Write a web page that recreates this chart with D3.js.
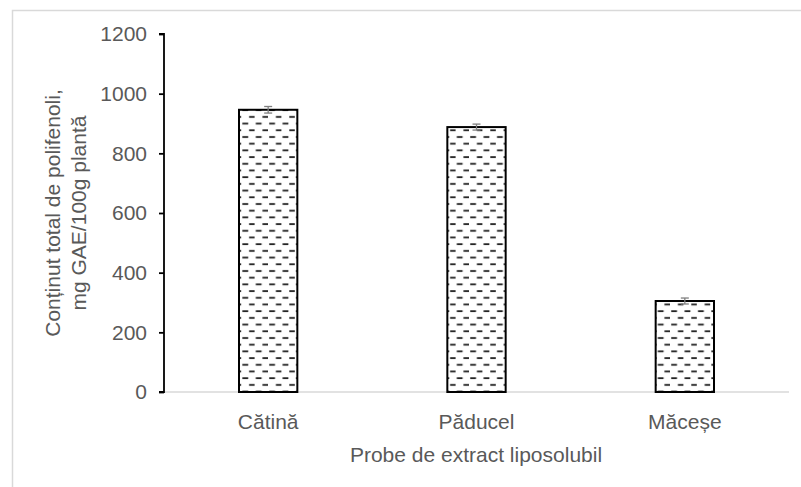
<!DOCTYPE html>
<html><head><meta charset="utf-8">
<script src="https://cdn.jsdelivr.net/npm/d3@7"></script>
<style>body{margin:0;background:#fff}svg{display:block}</style>
</head><body>
<svg id="c" width="801" height="487"></svg>
<script>
const categories = ["Cătină", "Păducel", "Măceșe"];
const values = [946, 888, 305];
const errors = [11, 10, 10];
const yTicks = [0, 200, 400, 600, 800, 1000, 1200];
const yTitle = ["Conținut total de polifenoli,", "mg GAE/100g plantă"];
const xTitle = "Probe de extract liposolubil";

const svg = d3.select("#c");
const font = "'Liberation Sans', Arial, sans-serif";
const textColor = "#595959";
const fs = "21px";

// outer frame
svg.append("rect").attr("x", 12.5).attr("y", 10.5).attr("width", 820).attr("height", 500)
  .attr("fill", "none").attr("stroke", "#d9d9d9").attr("stroke-width", 1.5);

// pattern
const defs = svg.append("defs");
const P = 13.4;
const pat = defs.append("pattern").attr("id", "dash").attr("patternUnits", "userSpaceOnUse")
  .attr("width", P).attr("height", P).attr("x", 0).attr("y", 0);
pat.append("rect").attr("width", P).attr("height", P).attr("fill", "#fff");
pat.append("line").attr("x1", 1.2).attr("x2", 7).attr("y1", 3).attr("y2", 3)
  .attr("stroke", "#222").attr("stroke-width", 1.8);
pat.append("line").attr("x1", 7.9).attr("x2", 13.4).attr("y1", 9.7).attr("y2", 9.7)
  .attr("stroke", "#222").attr("stroke-width", 1.8);

const x = d3.scaleBand().domain(categories).range([164, 789]).paddingInner(0.72).paddingOuter(0.36);
const y = d3.scaleLinear().domain([0, 1200]).range([392, 34]);

// x axis line
svg.append("line").attr("x1", 164).attr("x2", 789).attr("y1", y(0)).attr("y2", y(0))
  .attr("stroke", "#d9d9d9").attr("stroke-width", 1.5);

// bars
svg.append("g").selectAll("rect").data(categories).join("rect")
  .attr("x", d => x(d)).attr("y", (d, i) => y(values[i]))
  .attr("width", x.bandwidth())
  .attr("height", (d, i) => y(0) - y(values[i]))
  .attr("fill", "url(#dash)")
  .attr("stroke", "#000").attr("stroke-width", 2);

// error bars
categories.forEach((c, i) => {
  const cx = x(c) + x.bandwidth() / 2;
  const top = y(values[i] + errors[i]), bot = y(values[i] - errors[i]);
  const g = svg.append("g").attr("stroke", "#7f7f7f").attr("stroke-width", 1.3);
  g.append("line").attr("x1", cx).attr("x2", cx).attr("y1", top).attr("y2", bot);
  g.append("line").attr("x1", cx - 4).attr("x2", cx + 4).attr("y1", top).attr("y2", top);
  g.append("line").attr("x1", cx - 4).attr("x2", cx + 4).attr("y1", bot).attr("y2", bot);
});

// y axis
const yAxis = svg.append("g").attr("transform", "translate(164,0)")
  .call(d3.axisLeft(y).tickValues(yTicks).tickSize(5).tickPadding(12).tickFormat(d3.format("d")));
yAxis.select(".domain").attr("stroke", "#000").attr("stroke-width", 1.8)
  .attr("d", `M-5,${y(1200)}H0V${y(0)}H-5`);
yAxis.selectAll(".tick line").attr("stroke", "#000").attr("stroke-width", 1.8);
yAxis.selectAll(".tick text").attr("fill", textColor).style("font-family", font).style("font-size", fs);

// x category labels
svg.append("g").selectAll("text").data(categories).join("text")
  .attr("x", d => x(d) + x.bandwidth() / 2).attr("y", 429)
  .attr("text-anchor", "middle").attr("fill", textColor)
  .style("font-family", font).style("font-size", fs).text(d => d);

// x title
svg.append("text").attr("x", 476).attr("y", 462).attr("text-anchor", "middle")
  .attr("fill", textColor).style("font-family", font).style("font-size", fs).text(xTitle);

// y title
const yt = svg.append("text").attr("transform", `translate(0,${(y(0) + y(1200)) / 2}) rotate(-90)`)
  .attr("text-anchor", "middle").attr("fill", textColor)
  .style("font-family", font).style("font-size", fs);
yt.append("tspan").attr("x", 0).attr("y", 60).text(yTitle[0]);
yt.append("tspan").attr("x", 0).attr("y", 86).text(yTitle[1]);
</script>
</body></html>
